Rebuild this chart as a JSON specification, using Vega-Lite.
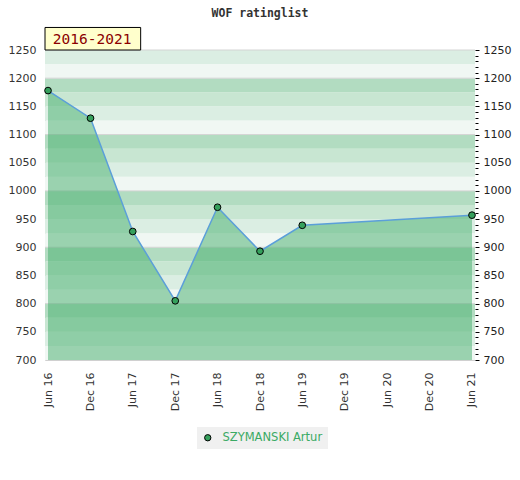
{
  "$schema": "https://vega.github.io/schema/vega-lite/v6.json",
  "width": 430,
  "height": 310,
  "autosize": "none",
  "padding": {"left": 45, "top": 50, "right": 45, "bottom": 120},
  "background": "#ffffff",
  "config": {
    "view": {"stroke": null},
    "axis": {"labelFont": "DejaVu Sans", "labelColor": "#333333", "labelFontSize": 11},
    "axisX": {
      "title": null,
      "format": "%b %y", "labelAngle": -90, "ticks": false, "grid": false,
      "domainColor": "#d0d0d0", "labelPadding": 12, "labelFlush": false, "labelOverlap": false
    }
  },
  "title": {
    "text": "WOF ratinglist",
    "font": "DejaVu Sans Mono",
    "fontWeight": "bold",
    "fontSize": 11.5,
    "color": "#333333",
    "anchor": "middle",
    "offset": 7
  },
  "datasets": {
    "ratings": [
      {"date": "2016-06-01", "rating": 1178, "player": "SZYMANSKI Artur"},
      {"date": "2016-12-01", "rating": 1129, "player": "SZYMANSKI Artur"},
      {"date": "2017-06-01", "rating": 928, "player": "SZYMANSKI Artur"},
      {"date": "2017-12-01", "rating": 805, "player": "SZYMANSKI Artur"},
      {"date": "2018-06-01", "rating": 971, "player": "SZYMANSKI Artur"},
      {"date": "2018-12-01", "rating": 893, "player": "SZYMANSKI Artur"},
      {"date": "2019-06-01", "rating": 939, "player": "SZYMANSKI Artur"},
      {"date": "2021-06-01", "rating": 957, "player": "SZYMANSKI Artur"}
    ],
    "bands": [
      {"lo": 700, "hi": 725, "shade": "d"},
      {"lo": 725, "hi": 750, "shade": "c"},
      {"lo": 750, "hi": 775, "shade": "b"},
      {"lo": 775, "hi": 800, "shade": "a"},
      {"lo": 800, "hi": 825, "shade": "d"},
      {"lo": 825, "hi": 850, "shade": "c"},
      {"lo": 850, "hi": 875, "shade": "b"},
      {"lo": 875, "hi": 900, "shade": "a"},
      {"lo": 900, "hi": 925, "shade": "d"},
      {"lo": 925, "hi": 950, "shade": "c"},
      {"lo": 950, "hi": 975, "shade": "b"},
      {"lo": 975, "hi": 1000, "shade": "a"},
      {"lo": 1000, "hi": 1025, "shade": "d"},
      {"lo": 1025, "hi": 1050, "shade": "c"},
      {"lo": 1050, "hi": 1075, "shade": "b"},
      {"lo": 1075, "hi": 1100, "shade": "a"},
      {"lo": 1100, "hi": 1125, "shade": "d"},
      {"lo": 1125, "hi": 1150, "shade": "c"},
      {"lo": 1150, "hi": 1175, "shade": "b"},
      {"lo": 1175, "hi": 1200, "shade": "a"},
      {"lo": 1200, "hi": 1225, "shade": "d"},
      {"lo": 1225, "hi": 1250, "shade": "c"}
    ]
  },
  "layer": [
    {
      "data": {"name": "bands"},
      "mark": {"type": "rect"},
      "encoding": {
        "y": {
          "field": "lo", "type": "quantitative",
          "scale": {"domain": [700, 1250], "nice": false, "zero": false},
          "axis": {"orient": "left", "title": null, "tickCount": 11, "format": "d", "ticks": false, "grid": false, "domainColor": "#d0d0d0", "labelPadding": 9}
        },
        "y2": {"field": "hi"},
        "fill": {
          "field": "shade", "type": "nominal",
          "scale": {"domain": ["a", "b", "c", "d"], "range": ["#b2dcc1", "#c8e6d2", "#dbeee3", "#f0f7f3"]},
          "legend": null
        }
      }
    },
    {
      "data": {"name": "bands"},
      "transform": [{"filter": "datum.hi % 100 === 0 || datum.hi === 1250"}],
      "mark": {"type": "rule", "color": "#d4d4d4", "strokeWidth": 1},
      "encoding": {
        "y": {"field": "hi", "type": "quantitative", "scale": {"domain": [700, 1250], "nice": false, "zero": false}, "axis": null}
      }
    },
    {
      "data": {"name": "ratings"},
      "mark": {"type": "area", "color": "#44ae6b", "fillOpacity": 0.5, "interpolate": "linear"},
      "encoding": {
        "x": {
          "field": "date", "type": "temporal", "title": null,
          "scale": {"domain": [{"year": 2016, "month": 5, "date": 19}, {"year": 2021, "month": 6, "date": 14}]},
          "axis": {
            "title": null,
            "values": [
              {"year": 2016, "month": 6, "date": 1}, {"year": 2016, "month": 12, "date": 1},
              {"year": 2017, "month": 6, "date": 1}, {"year": 2017, "month": 12, "date": 1},
              {"year": 2018, "month": 6, "date": 1}, {"year": 2018, "month": 12, "date": 1},
              {"year": 2019, "month": 6, "date": 1}, {"year": 2019, "month": 12, "date": 1},
              {"year": 2020, "month": 6, "date": 1}, {"year": 2020, "month": 12, "date": 1},
              {"year": 2021, "month": 6, "date": 1}
            ],
            "format": "%b %y", "labelAngle": -90, "ticks": false, "grid": false,
            "domainColor": "#d0d0d0", "labelPadding": 12, "labelFlush": false, "labelOverlap": false
          }
        },
        "y": {"field": "rating", "type": "quantitative", "scale": {"domain": [700, 1250], "nice": false, "zero": false}, "axis": null},
        "y2": {"datum": 700}
      }
    },
    {
      "data": {"name": "ratings"},
      "transform": [{"filter": "datum.date === '2016-06-01' || datum.date === '2021-06-01'"}],
      "mark": {"type": "rule", "color": "#30a956", "strokeWidth": 1.5},
      "encoding": {
        "x": {"field": "date", "type": "temporal", "title": null},
        "y": {"field": "rating", "type": "quantitative", "scale": {"domain": [700, 1250], "nice": false, "zero": false}, "axis": null},
        "y2": {"datum": 700}
      }
    },
    {
      "data": {"name": "ratings"},
      "mark": {"type": "line", "color": "#5b9fd9", "strokeWidth": 1.5},
      "encoding": {
        "x": {"field": "date", "type": "temporal", "title": null},
        "y": {
          "field": "rating", "type": "quantitative",
          "scale": {"domain": [700, 1250], "nice": false, "zero": false},
          "axis": {
            "orient": "right", "title": null, "tickCount": 55, "format": "d",
            "labelExpr": "datum.value % 50 === 0 ? datum.label : ''",
            "labelOverlap": false, "domain": false, "grid": false,
            "tickColor": "#000000",
            "tickSize": {"condition": {"test": "datum.value % 50 === 0", "value": 4}, "value": 3},
            "labelPadding": 4, "labelColor": "#222222"
          }
        }
      }
    },
    {
      "data": {"name": "ratings"},
      "mark": {"type": "point", "filled": true, "size": 45, "stroke": "#000000", "strokeWidth": 1, "opacity": 1},
      "encoding": {
        "x": {"field": "date", "type": "temporal", "title": null},
        "y": {"field": "rating", "type": "quantitative", "scale": {"domain": [700, 1250], "nice": false, "zero": false}, "axis": null},
        "color": {
          "field": "player", "type": "nominal",
          "scale": {"range": ["#35a05c"]},
          "legend": {
            "orient": "none", "legendX": 152, "legendY": 377, "title": null,
            "fillColor": "#f0f0f0", "padding": 5,
            "labelColor": "#3aaa64", "labelFontSize": 11.5, "labelFont": "DejaVu Sans",
            "symbolType": "circle", "symbolSize": 40,
            "symbolStrokeColor": "#000000", "symbolStrokeWidth": 1, "labelOffset": 9
          }
        }
      }
    },
    {
      "data": {"values": [{"label": "2016-2021"}]},
      "mark": {"type": "rect", "fill": "#ffffcc", "stroke": "#000000", "strokeWidth": 1},
      "encoding": {
        "x": {"datum": {"year": 2016, "month": 5, "date": 19}, "type": "temporal", "title": null},
        "x2": {"datum": {"year": 2017, "month": 7, "date": 5}},
        "y": {"datum": 1250, "type": "quantitative", "scale": {"domain": [700, 1250], "nice": false, "zero": false}, "axis": null},
        "y2": {"datum": 1290}
      }
    },
    {
      "data": {"values": [{"label": "2016-2021"}]},
      "mark": {"type": "text", "font": "DejaVu Sans Mono", "fontSize": 14.5, "color": "#8b0000", "align": "center", "baseline": "middle"},
      "encoding": {
        "x": {"datum": {"year": 2016, "month": 12, "date": 8}, "type": "temporal", "title": null},
        "y": {"datum": 1268, "type": "quantitative", "scale": {"domain": [700, 1250], "nice": false, "zero": false}, "axis": null},
        "text": {"field": "label"}
      }
    }
  ],
  "resolve": {"axis": {"y": "independent"}, "scale": {"fill": "independent"}}
}
